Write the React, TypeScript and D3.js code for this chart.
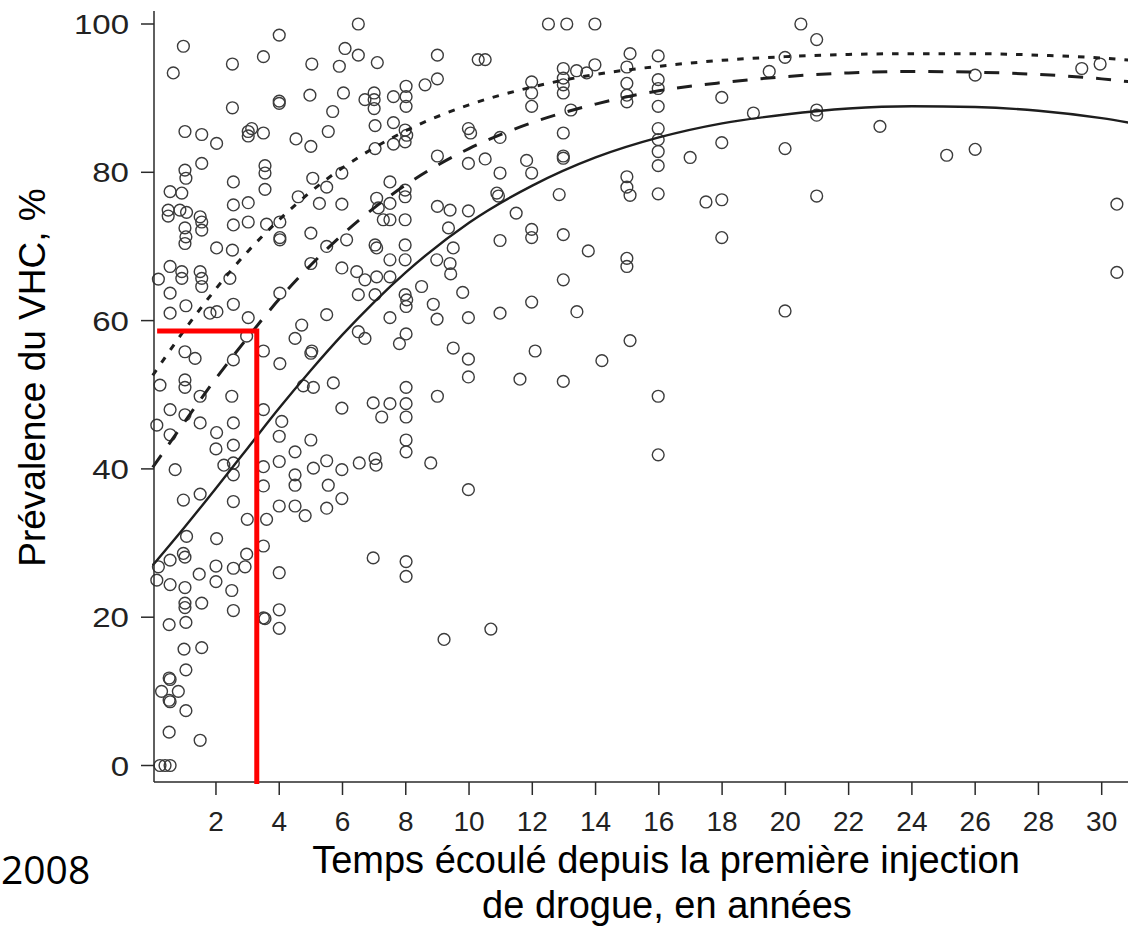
import React from 'react';
import * as d3 from 'd3';

// ---------- data ----------
const xTickValues = [2, 4, 6, 8, 10, 12, 14, 16, 18, 20, 22, 24, 26, 28, 30];
const yTickValues = [0, 20, 40, 60, 80, 100];

const curveYears = [0, 1, 2, 3, 4, 5, 6, 7, 8, 10, 12, 14, 16, 18, 20, 22, 24, 26, 28, 30, 31.5];
const fitSolid = [27.0, 32.1, 37.4, 42.8, 48.2, 53.3, 58.1, 62.5, 66.5, 73.2, 78.2, 82.0, 84.7, 86.6, 87.8, 88.6, 88.9, 88.8, 88.3, 87.3, 86.2];
const fitDashed = [40.2, 46.3, 52.2, 57.7, 62.9, 67.5, 71.6, 75.2, 78.3, 83.2, 86.7, 89.2, 91.0, 92.1, 92.9, 93.4, 93.6, 93.5, 93.2, 92.6, 91.9];
const fitDotted = [52.6, 58.7, 64.3, 69.3, 73.6, 77.4, 80.6, 83.3, 85.6, 89.1, 91.5, 93.2, 94.3, 95.1, 95.6, 95.9, 96.0, 96.0, 95.8, 95.4, 94.9];

const markerYear = 3.29;
const markerPrevalence = 58.6;

// [years since first injection, HCV prevalence %]
const studyPoints: [number, number][] = [
  [0.97,97.0],[0.65,93.4],[2.52,94.6],[3.5,95.6],[4.0,98.5],[6.5,100],[5.03,94.6],[6.08,96.7],[5.9,94.3],[6.5,95.8],[7.1,94.8],
  [2.52,88.7],[4.0,89.6],[4.0,89.3],[4.97,90.4],[6.03,90.7],[5.69,88.2],[6.71,89.8],[7.0,90.7],[7.0,89.8],[7.0,88.6],
  [1.02,85.5],[1.55,85.1],[2.02,83.9],[3.02,85.5],[3.13,85.9],[3.02,84.9],[3.5,85.3],[4.53,84.5],[5.0,83.5],[5.55,85.5],[7.03,86.3],[7.03,83.2],
  [1.02,80.3],[1.05,79.2],[1.55,81.2],[2.55,78.7],[3.55,80.9],[3.55,79.9],[3.55,77.7],[5.06,79.2],[5.5,78.0],[5.98,79.9],
  [0.55,77.4],[0.92,77.2],[0.49,74.9],[0.49,74.1],[0.86,74.9],[1.07,74.6],[1.5,74.0],[1.55,73.3],[1.55,72.2],[2.55,75.6],[3.02,75.9],[2.55,72.9],[3.02,73.3],[3.6,73.0],[4.02,73.3],[4.02,71.2],[4.02,70.9],[4.6,76.7],[5.27,75.8],[5.98,75.7],[5.0,71.8],[7.08,76.5],[7.13,75.2],
  [1.02,72.5],[1.05,71.3],[1.02,70.4],[2.02,69.8],[2.52,69.5],[6.13,70.9],[5.5,70.0],[7.03,70.2],[7.08,69.8],[5.0,67.7],
  [0.55,67.3],[0.92,66.6],[0.92,65.7],[1.5,66.6],[1.55,65.7],[1.55,64.6],[2.44,65.7],[0.18,65.6],[5.98,67.1],[6.45,66.6],[6.71,65.5],[7.08,65.9],[4.02,63.7],[6.5,63.5],[7.03,63.5],
  [0.55,63.7],[1.05,62.0],[1.81,61.0],[2.03,61.2],[2.55,62.2],[3.02,60.4],[0.55,61.0],[5.5,60.8],
  [4.71,59.4],[4.5,57.6],[2.97,57.9],[6.5,58.5],[6.71,57.6],[1.02,55.8],[1.34,54.9],[2.55,54.7],[3.5,55.9],[4.02,54.2],[5.03,55.9],[5.0,55.6],
  [0.23,51.3],[1.02,52.0],[1.02,51.0],[1.5,49.8],[2.5,49.8],[4.76,51.2],[5.08,51.0],[5.71,51.6],
  [0.55,48.0],[1.02,47.3],[1.5,46.2],[2.55,46.2],[3.5,48.0],[4.08,46.4],[5.98,48.2],[6.97,48.9],
  [0.13,45.9],[0.55,44.6],[2.02,44.9],[2.0,42.7],[2.55,43.2],[4.0,44.4],[5.0,43.9],[4.5,42.3],
  [0.71,39.9],[2.25,40.5],[2.55,40.8],[2.55,39.2],[3.5,40.3],[3.5,37.7],[4.0,41.0],[4.5,39.2],[4.5,37.8],[5.08,40.1],[5.5,41.1],[5.55,37.8],[5.98,39.9],[6.53,40.8],[7.03,41.4],[7.06,40.5],
  [0.97,35.8],[1.5,36.6],[2.55,35.6],[4.0,35.0],[4.5,35.0],[4.82,33.7],[5.5,34.7],[5.98,36.0],[2.99,33.2],[3.6,33.2],[2.02,30.6],[1.07,30.9],[3.5,29.6],
  [0.18,26.8],[0.55,27.7],[0.97,28.6],[1.02,28.1],[2.97,28.5],[2.92,26.8],[2.55,26.6],[2.0,26.9],[1.47,25.8],[2.0,24.8],[2.5,23.6],[4.0,26.0],[0.13,25.0],[0.55,24.4],[1.02,24.0],[6.97,28.0],
  [1.02,21.9],[1.02,21.3],[1.55,21.9],[2.55,20.9],[3.5,19.9],[3.55,19.8],[4.0,21.0],[4.0,18.5],[0.52,19.0],[1.05,19.3],[0.99,15.7],[1.55,15.9],
  [0.52,11.8],[0.55,11.6],[1.05,12.9],[0.28,10.0],[0.81,10.0],[0.52,8.8],[0.55,8.6],[1.05,7.4],[0.52,4.5],[1.5,3.4],[0.23,0],[0.39,0],[0.55,0],
  [12.51,100],[13.09,100],[13.98,100],[9.0,95.8],[10.29,95.2],[10.51,95.2],[15.09,96.0],[15.98,95.7],[9.0,92.6],[8.01,91.6],[8.01,90.2],[8.01,88.9],[7.61,90.2],[8.61,91.8],
  [11.98,92.2],[11.98,90.7],[11.98,88.9],[12.98,94.0],[12.98,92.7],[12.98,91.8],[12.98,90.7],[13.4,93.7],[13.72,93.4],[13.98,94.5],
  [14.99,94.2],[14.99,92.0],[14.99,90.4],[14.99,89.5],[15.98,92.5],[15.98,91.3],[15.98,88.9],[17.99,90.1],[18.99,88.0],[13.22,88.4],
  [7.61,86.7],[7.98,85.7],[8.03,85.0],[7.98,84.1],[7.61,83.8],[9.0,82.2],[9.98,85.9],[10.05,85.3],[10.98,84.7],[12.98,85.3],[12.98,82.2],[12.98,81.9],
  [15.98,85.9],[15.98,84.4],[15.98,82.8],[15.98,80.9],[16.99,82.0],[17.99,84.0],[9.98,81.2],[10.51,81.8],[10.98,79.9],[11.82,81.6],[11.98,79.9],
  [7.5,78.7],[7.98,77.6],[7.98,76.7],[7.5,75.8],[10.88,77.2],[10.93,76.8],[12.85,77.0],[14.99,79.4],[14.99,78.0],[15.09,76.9],[15.98,77.1],[17.49,76.0],[17.99,76.3],
  [7.29,73.6],[7.5,73.6],[7.98,73.6],[9.0,75.4],[9.4,74.9],[9.98,74.8],[9.35,72.5],[11.49,74.5],[11.98,72.3],[11.98,71.2],[12.98,71.6],[10.98,70.8],[13.77,69.4],[14.99,68.4],[14.99,67.3],[17.99,71.2],
  [7.98,70.2],[9.5,69.8],[7.5,68.2],[7.98,68.2],[8.98,68.2],[9.4,67.7],[9.42,66.3],[7.5,65.9],[8.5,64.6],[9.8,63.8],[12.98,65.5],
  [7.98,63.5],[8.03,62.8],[8.01,61.9],[8.87,62.2],[11.98,62.5],[10.98,61.0],[13.41,61.2],[9.98,60.4],[8.99,60.2],[7.5,60.4],
  [8.01,58.2],[7.8,56.9],[9.5,56.3],[9.98,54.8],[9.98,52.4],[12.09,55.9],[15.09,57.3],[14.2,54.6],[11.61,52.1],[12.98,51.8],
  [8.01,51.0],[7.5,48.8],[8.01,48.8],[8.01,47.0],[7.24,47.0],[9.0,49.8],[15.98,49.8],[8.01,43.9],[8.01,42.3],[8.79,40.8],[15.98,41.9],[9.98,37.2],[8.01,27.5],[8.01,25.5],[10.69,18.4],[9.21,17.0],
  [20.49,100],[20.99,97.9],[19.99,95.5],[19.49,93.6],[26.0,93.1],[29.37,94.0],[29.95,94.6],[20.99,88.4],[20.99,87.7],[22.99,86.2],[19.99,83.2],[25.1,82.3],[26.0,83.1],[20.99,76.8],[30.48,75.7],[30.48,66.5],[19.99,61.3],
];

const yAxisTitle = 'Prévalence du VHC, %';
const xAxisTitleLines = ['Temps écoulé depuis la première injection', 'de drogue, en années'];
const sourceYear = '2008';

// ---------- layout ----------
const W = 1128;
const H = 934;
const axisLeft = 154;
const axisBottom = 782;
const axisTop = 11;
const tickLen = 13;

export default function App() {
  const x = d3.scaleLinear().domain([0, 30]).range([152.7, 1101.7]);
  const y = d3.scaleLinear().domain([0, 100]).range([765.5, 24]);

  const makeLine = (vals: number[]) =>
    d3
      .line<number>()
      .x((_, i) => x(curveYears[i]))
      .y((d) => y(d))
      .curve(d3.curveMonotoneX)(vals) || '';

  const ink = '#2a2a2a';
  const font = '"Liberation Sans", Arial, sans-serif';

  const redPath = `M${x(0.14)},${y(markerPrevalence)}H${x(markerYear)}V${axisBottom + 2}`;

  return (
    <svg
      width={W}
      height={H}
      viewBox={`0 0 ${W} ${H}`}
      style={{ position: 'absolute', left: 0, top: 0, background: '#fff' }}
    >
      <rect x={0} y={0} width={W} height={H} fill="#fff" />

      {/* points */}
      <g fill="none" stroke="#3c3c3c" strokeWidth={1.4}>
        {studyPoints.map(([t, v], i) => (
          <circle key={i} cx={x(t)} cy={y(v)} r={5.9} />
        ))}
      </g>

      {/* fitted curves */}
      <g fill="none" stroke="#1e1e1e">
        <path d={makeLine(fitDotted)} strokeWidth={3} strokeDasharray="6.5 9" />
        <path d={makeLine(fitDashed)} strokeWidth={3} strokeDasharray="15 13" />
        <path d={makeLine(fitSolid)} strokeWidth={2.4} />
      </g>

      {/* axes */}
      <g stroke={ink} strokeWidth={1.5} fill="none">
        <line x1={axisLeft} y1={axisTop} x2={axisLeft} y2={axisBottom} />
        <line x1={axisLeft} y1={axisBottom} x2={W + 10} y2={axisBottom} />
        {xTickValues.map((t) => (
          <line key={'xt' + t} x1={x(t)} x2={x(t)} y1={axisBottom} y2={axisBottom + tickLen} />
        ))}
        {yTickValues.map((v) => (
          <line key={'yt' + v} x1={axisLeft - tickLen} x2={axisLeft} y1={y(v)} y2={y(v)} />
        ))}
      </g>

      <g fill="#222" fontFamily={font} fontSize={28}>
        {xTickValues.map((t) => (
          <text key={'xl' + t} x={x(t)} y={830.5} textAnchor="middle">
            {t}
          </text>
        ))}
        {yTickValues.map((v) => (
          <text
            key={'yl' + v}
            transform={`translate(129,${y(v) + 10}) scale(1.18,1)`}
            textAnchor="end"
          >
            {v}
          </text>
        ))}
      </g>

      {/* red marker */}
      <path d={redPath} fill="none" stroke="#ff0000" strokeWidth={5} strokeLinejoin="miter" />

      {/* titles */}
      <text
        transform="translate(45,377.5) rotate(-90)"
        textAnchor="middle"
        fontFamily={font}
        fontSize={37}
        fill="#000"
      >
        {yAxisTitle}
      </text>
      <g fontFamily={font} fontSize={38} fill="#000" textAnchor="middle">
        <text x={666} y={873}>{xAxisTitleLines[0]}</text>
        <text x={667} y={918}>{xAxisTitleLines[1]}</text>
      </g>
      <text
        x={1}
        y={884}
        textAnchor="start"
        fontFamily='"Open Sans", "Noto Sans", sans-serif'
        fontSize={39}
        fill="#000"
      >
        {sourceYear}
      </text>
    </svg>
  );
}
